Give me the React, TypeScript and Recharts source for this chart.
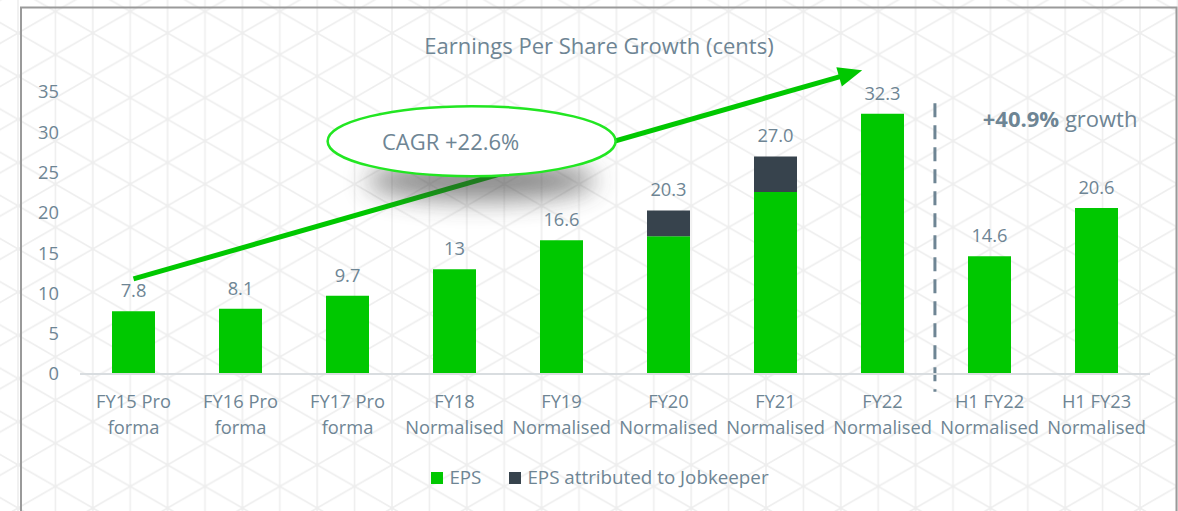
import React from 'react';
import { BarChart, Bar, XAxis, YAxis, LabelList, Legend, ReferenceLine, ReferenceDot } from 'recharts';

const categoryLine1 = ['FY15 Pro', 'FY16 Pro', 'FY17 Pro', 'FY18', 'FY19', 'FY20', 'FY21', 'FY22', 'H1 FY22', 'H1 FY23'];
const categoryLine2 = ['forma', 'forma', 'forma', 'Normalised', 'Normalised', 'Normalised', 'Normalised', 'Normalised', 'Normalised', 'Normalised'];
const epsValues = [7.8, 8.1, 9.7, 13, 16.6, 17.1, 22.6, 32.3, 14.6, 20.6];
const jobkeeperValues = [0, 0, 0, 0, 0, 3.2, 4.4, 0, 0, 0];
const valueLabels = ['7.8', '8.1', '9.7', '13', '16.6', '20.3', '27.0', '32.3', '14.6', '20.6'];
const yTicks = [0, 5, 10, 15, 20, 25, 30, 35];

const TEXT = '#6e8594';
const GREEN = '#00c800';
const DARK = '#37434d';

const data = categoryLine1.map((c, i) => ({
  cat: c + ' ' + categoryLine2[i],
  pos: i + 0.5,
  eps: epsValues[i],
  jk: jobkeeperValues[i],
  labelEps: jobkeeperValues[i] > 0 ? '' : valueLabels[i],
  labelJk: jobkeeperValues[i] > 0 ? valueLabels[i] : '',
}));

const XTick = (props: any) => {
  const { x, y, index } = props;
  return (
    <text x={x} y={y} textAnchor="middle" fill={TEXT} fontSize={18.3}>
      <tspan x={x} dy={26}>{categoryLine1[index]}</tspan>
      <tspan x={x} dy={26}>{categoryLine2[index]}</tspan>
    </text>
  );
};

const ArrowShape = (props: any) => {
  const { x1, y1, x2, y2 } = props;
  if (x1 == null) return null;
  const ang = Math.atan2(y2 - y1, x2 - x1);
  const L = 24;
  const W = 10;
  const bx = x2 - L * Math.cos(ang);
  const by = y2 - L * Math.sin(ang);
  const px = -Math.sin(ang) * W;
  const py = Math.cos(ang) * W;
  return (
    <g>
      <line x1={x1} y1={y1} x2={bx + 2 * Math.cos(ang)} y2={by + 2 * Math.sin(ang)} stroke={GREEN} strokeWidth={5} />
      <polygon points={`${x2},${y2} ${bx + px},${by + py} ${bx - px},${by - py}`} fill={GREEN} />
    </g>
  );
};

const ShadowShape = (props: any) => {
  const { cx, cy } = props;
  return (
    <g>
      <defs>
        <filter id="shblur" x="-50%" y="-100%" width="200%" height="300%">
          <feGaussianBlur stdDeviation="13" />
        </filter>
      </defs>
      <ellipse cx={cx} cy={cy} rx={115} ry={20} fill="#3a3a3a" opacity={0.6} filter="url(#shblur)" />
    </g>
  );
};

const EllipseShape = (props: any) => {
  const { cx, cy } = props;
  return (
    <g>
      <ellipse cx={cx} cy={cy} rx={144} ry={35} fill="#ffffff" stroke="#22e622" strokeWidth={2.5} />
      <text x={cx - 21} y={cy} textAnchor="middle" dominantBaseline="central" fill={TEXT} fontSize={22}>CAGR +22.6%</text>
    </g>
  );
};

const GrowthShape = (props: any) => {
  const { cx, cy } = props;
  return (
    <text x={cx} y={cy} textAnchor="middle" dominantBaseline="central" fill={TEXT} fontSize={22}>
      <tspan fontWeight="bold">+40.9%</tspan>
      <tspan> growth</tspan>
    </text>
  );
};

const LegendContent = () => (
  <div style={{ height: 46, display: 'flex', alignItems: 'flex-start', justifyContent: 'center', paddingLeft: 50, fontSize: 18.8, lineHeight: '25px', color: TEXT }}>
    <span style={{ display: 'inline-block', width: 12, height: 12, background: GREEN, marginRight: 6, marginTop: 7 }} />
    <span style={{ marginRight: 28 }}>EPS</span>
    <span style={{ display: 'inline-block', width: 12, height: 12, background: DARK, marginRight: 6, marginTop: 7 }} />
    <span>EPS attributed to Jobkeeper</span>
  </div>
);

const Background = () => {
  const d = 37.4;
  const h = (2 * d) / Math.sqrt(3);
  return (
    <svg width={1178} height={511} style={{ position: 'absolute', left: 0, top: 0 }}>
      <defs>
        <pattern id="tri" width={2 * d} height={h} patternUnits="userSpaceOnUse" x={18} y={33}>
          <path d={`M0,0 V${h} M${d},0 V${h} M${2 * d},0 V${h} M0,0 L${2 * d},${h} M0,${h} L${2 * d},0`} stroke="#eeeeee" strokeWidth={1.6} fill="none" />
        </pattern>
      </defs>
      <rect x={0} y={0} width={1178} height={511} fill="#ffffff" />
      <rect x={0} y={0} width={1178} height={511} fill="url(#tri)" />
      <path d="M21,511 V7.5 H1176.5 V511" stroke="#9a9a9a" strokeWidth={2} fill="none" />
    </svg>
  );
};

export default function App() {
  return (
    <div style={{ position: 'absolute', left: 0, top: 0, width: 1178, height: 511, fontFamily: '"Open Sans", sans-serif', overflow: 'hidden' }}>
      <Background />
      <div style={{ position: 'absolute', left: 0, top: 30, width: 1198, textAlign: 'center', fontSize: 22, color: TEXT, lineHeight: '30px' }}>
        Earnings Per Share Growth (cents)
      </div>
      <div style={{ position: 'absolute', left: 0, top: 0 }}>
        <BarChart width={1178} height={511} data={data} margin={{ top: 92, right: 28, left: 0, bottom: 0 }} barSize={43}>
          <XAxis dataKey="cat" tick={<XTick />} tickLine={false} axisLine={{ stroke: '#d9dde0', strokeWidth: 2 }} height={91} interval={0} />
          <XAxis xAxisId="num" dataKey="pos" type="number" domain={[0, 10]} hide allowDataOverflow />
          <YAxis domain={[0, 35]} ticks={yTicks} width={80} axisLine={false} tickLine={false} tickMargin={15} tick={{ fill: TEXT, fontSize: 18.3 }} />
          <Legend verticalAlign="bottom" content={<LegendContent />} />
          <ReferenceDot xAxisId="num" x={3.75} y={24.0} r={0} ifOverflow="visible" shape={<ShadowShape />} />
          <ReferenceLine xAxisId="num" segment={[{ x: 0.5, y: 11.8 }, { x: 7.31, y: 37.7 }]} ifOverflow="visible" shape={<ArrowShape />} />
          <ReferenceDot xAxisId="num" x={3.66} y={28.9} r={0} ifOverflow="visible" shape={<EllipseShape />} />
          <ReferenceLine xAxisId="num" segment={[{ x: 7.99, y: 33.6 }, { x: 7.99, y: -2.2 }]} ifOverflow="visible" stroke="#6e8594" strokeWidth={3} strokeDasharray="14 8" />
          <ReferenceDot xAxisId="num" x={9.16} y={31.8} r={0} ifOverflow="visible" shape={<GrowthShape />} />
          <Bar dataKey="eps" stackId="a" fill={GREEN} isAnimationActive={false} name="EPS">
            <LabelList dataKey="labelEps" position="top" offset={14} fill={TEXT} fontSize={18.3} />
          </Bar>
          <Bar dataKey="jk" stackId="a" fill={DARK} isAnimationActive={false} name="EPS attributed to Jobkeeper">
            <LabelList dataKey="labelJk" position="top" offset={14} fill={TEXT} fontSize={18.3} />
          </Bar>
        </BarChart>
      </div>
    </div>
  );
}
